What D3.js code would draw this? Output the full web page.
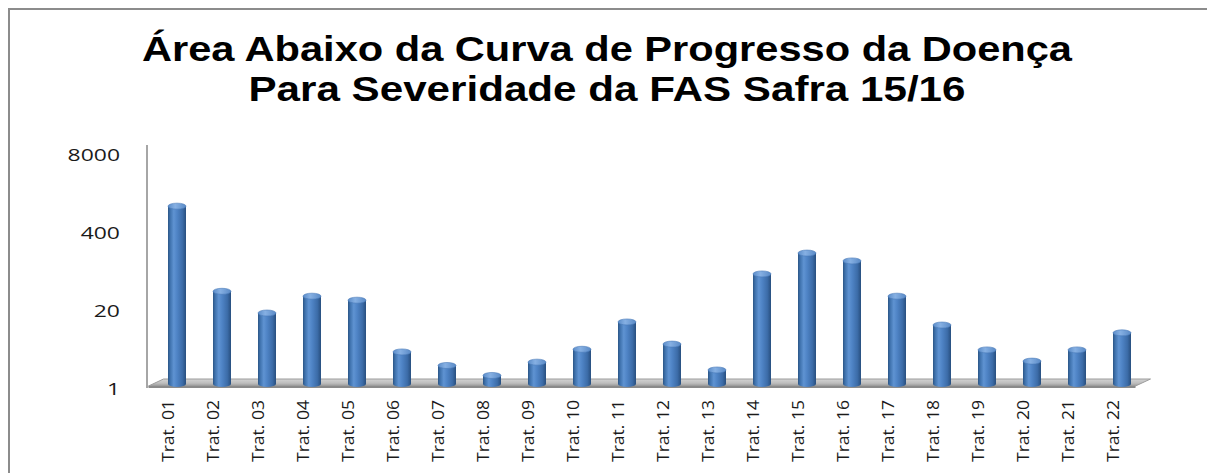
<!DOCTYPE html>
<html>
<head>
<meta charset="utf-8">
<script src="https://cdn.jsdelivr.net/npm/d3@7"></script>
<style>
  html, body { margin: 0; padding: 0; background: #fff; }
  svg { display: block; }
</style>
</head>
<body>
<svg id="chart" width="1207" height="473"></svg>
<script>
const titleLines = ["Área Abaixo da Curva de Progresso da Doença", "Para Severidade da FAS Safra 15/16"];
const categories = ["Trat. 01","Trat. 02","Trat. 03","Trat. 04","Trat. 05","Trat. 06","Trat. 07","Trat. 08","Trat. 09","Trat. 10","Trat. 11",
                    "Trat. 12","Trat. 13","Trat. 14","Trat. 15","Trat. 16","Trat. 17","Trat. 18","Trat. 19","Trat. 20","Trat. 21","Trat. 22"];
const values = [1000, 38, 16.5, 31.5, 27, 3.7, 2.2, 1.5, 2.5, 4.1, 11.7,
                5.0, 1.85, 74, 165, 122, 31.5, 10.4, 4.0, 2.6, 4.0, 7.7];
const tickValues = [1, 20, 400, 8000];
const tickLabels = ["1", "20", "400", "8000"];

const svg = d3.select("#chart");
const defs = svg.append("defs");

// frame
svg.append("path").attr("d", "M9,480 L9,9 L1215,9")
  .attr("fill", "none").attr("stroke", "#8c8c8c").attr("stroke-width", 2);

// title
const titleWidths = [930, 717];
titleLines.forEach((t, i) => {
  svg.append("text")
    .attr("x", 607).attr("y", 61 + i * 40)
    .attr("text-anchor", "middle")
    .attr("font-family", "'Liberation Sans', Arial, sans-serif")
    .attr("font-weight", "bold")
    .attr("font-size", 35)
    .attr("fill", "#000")
    .attr("textLength", titleWidths[i])
    .attr("lengthAdjust", "spacingAndGlyphs")
    .text(t);
});

const x = d3.scaleBand().domain(categories).range([154.5, 1144.5]).padding(0);
const y = d3.scaleLog().domain([1, 8000]).range([386, 152]);

// gradients
const barGrad = defs.append("linearGradient").attr("id", "barGrad")
  .attr("x1", "0%").attr("x2", "100%").attr("y1", "0%").attr("y2", "0%");
[["0%", "#2b5585"], ["12%", "#3f72ad"], ["32%", "#5f93d2"], ["50%", "#4f84c6"], ["80%", "#3c6ca8"], ["100%", "#284f7f"]]
  .forEach(s => barGrad.append("stop").attr("offset", s[0]).attr("stop-color", s[1]));
const topGrad = defs.append("linearGradient").attr("id", "topGrad")
  .attr("x1", "0%").attr("x2", "100%").attr("y1", "0%").attr("y2", "0%");
[["0%", "#5b8cc8"], ["40%", "#86b0e3"], ["100%", "#5a8ac6"]]
  .forEach(s => topGrad.append("stop").attr("offset", s[0]).attr("stop-color", s[1]));
const floorGrad = defs.append("linearGradient").attr("id", "floorGrad")
  .attr("x1", "0%").attr("x2", "0%").attr("y1", "0%").attr("y2", "100%");
[["0%", "#d4d4d4"], ["60%", "#bdbdbd"], ["100%", "#9a9a9a"]]
  .forEach(s => floorGrad.append("stop").attr("offset", s[0]).attr("stop-color", s[1]));

// floor
const x0 = x.range()[0], x1 = x.range()[1];
const floorBack = 379, floorFront = 386;
svg.append("path")
  .attr("d", `M${x0 - 6},${floorFront} L${x0 + 9},${floorBack} L${x1 + 6},${floorBack} L${x1 - 9},${floorFront} Z`)
  .attr("fill", "url(#floorGrad)").attr("stroke", "#9c9c9c").attr("stroke-width", 1);
svg.append("path")
  .attr("d", `M${x0 - 6},${floorFront} L${x1 - 9},${floorFront} L${x1 - 9},${floorFront + 2} L${x0 - 6},${floorFront + 2} Z`)
  .attr("fill", "#8a8a8a");

// y axis line
svg.append("line").attr("x1", 147).attr("x2", 147).attr("y1", 145).attr("y2", 388)
  .attr("stroke", "#a6a6a6").attr("stroke-width", 2);

// tick labels
svg.selectAll("text.tick").data(tickValues).enter().append("text")
  .attr("class", "tick")
  .attr("transform", d => `translate(120,${y(d) + 2}) scale(1.35,1)`)
  .attr("text-anchor", "end")
  .attr("dominant-baseline", "central")
  .attr("font-family", "'Open Sans', sans-serif")
  .attr("font-size", 17)
  .attr("fill", "#1a1a1a")
  .text((d, i) => tickLabels[i]);

// bars (cylinders)
const rx = 9, ry = 3;
const baseY = 384;
const bars = svg.selectAll("g.bar").data(categories.map((c, i) => ({c, v: values[i]})))
  .enter().append("g").attr("class", "bar");
bars.append("path")
  .attr("d", d => {
    const cx = x(d.c) + x.bandwidth() / 2;
    const ty = y(d.v);
    return `M${cx - rx},${ty} L${cx - rx},${baseY} A${rx},${ry} 0 0 0 ${cx + rx},${baseY} L${cx + rx},${ty} Z`;
  })
  .attr("fill", "url(#barGrad)");
bars.append("ellipse")
  .attr("cx", d => x(d.c) + x.bandwidth() / 2)
  .attr("cy", d => y(d.v))
  .attr("rx", rx).attr("ry", ry)
  .attr("fill", "url(#topGrad)")
  .attr("stroke", "#4a7bb8").attr("stroke-width", 0.6);

// category labels
svg.selectAll("text.cat").data(categories).enter().append("text")
  .attr("class", "cat")
  .attr("transform", d => `translate(${x(d) + x.bandwidth() / 2 - 3},400) rotate(-90)`)
  .attr("text-anchor", "end")
  .attr("font-family", "'Open Sans', sans-serif")
  .attr("font-size", 17)
  .attr("fill", "#1a1a1a")
  .attr("textLength", 62)
  .attr("lengthAdjust", "spacingAndGlyphs")
  .text(d => d);
</script>
</body>
</html>
